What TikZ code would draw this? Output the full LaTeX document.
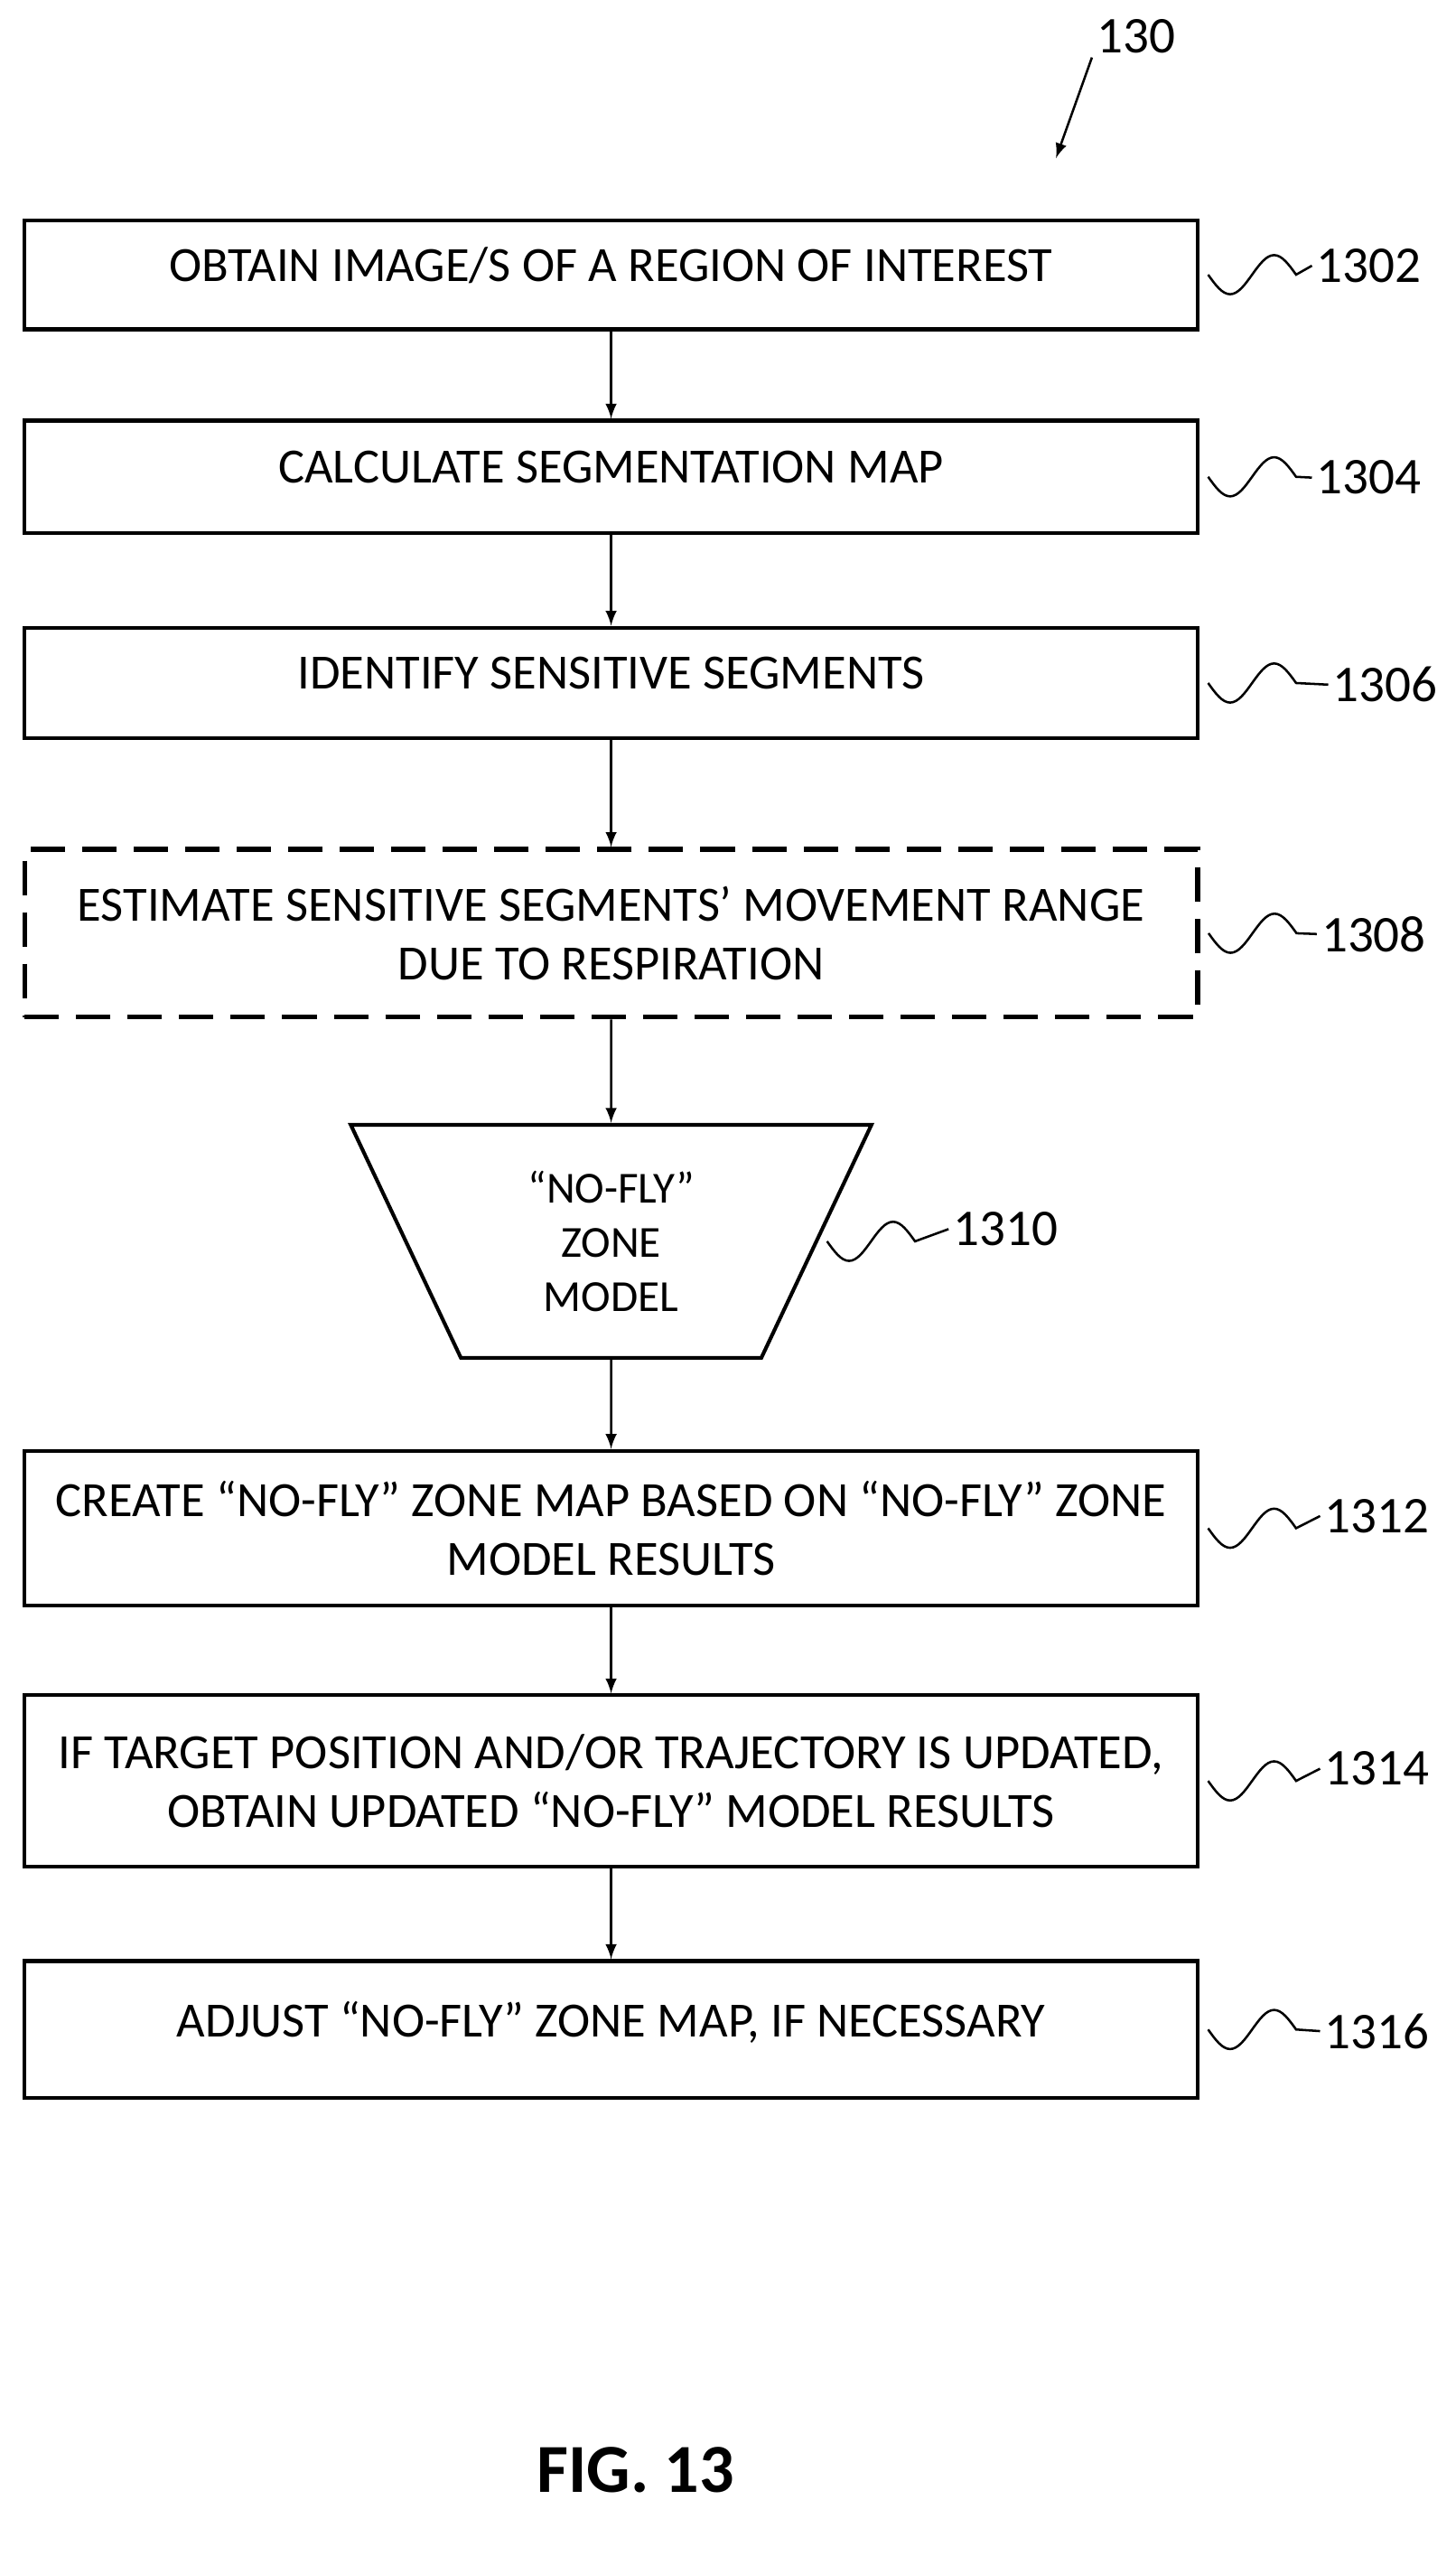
\documentclass[tikz,border=0pt]{standalone}
\usepackage{fontspec}
\setmainfont{Carlito}
\usetikzlibrary{positioning,shapes.geometric}
\begin{document}
\begin{tikzpicture}[x=0.02cm,y=-0.02cm,line width=1.3pt]
\tikzstyle{box}=[draw,minimum width=14.4cm,align=center,font=\fontsize{17.2}{20.5}\selectfont,inner sep=0pt]
\tikzstyle{lbl}=[font=\fontsize{18}{20}\selectfont,inner sep=1pt]
\newcommand{\squig}[2]{\draw[line width=0.8pt] ([xshift=3pt]#1) sin ++(0.27cm,-0.24cm) cos ++(0.27cm,0.24cm) sin ++(0.27cm,0.24cm) cos ++(0.27cm,-0.24cm) -- (#2.west);}
\newcommand{\up}[1]{\raisebox{7pt}{#1}}
\useasboundingbox (0,0) rectangle (893,1568);
\node[box,minimum height=1.34cm] (B_1302) at (375,168.5) {\up{OBTAIN IMAGE/S OF A REGION OF INTEREST}};
\node[box,minimum height=1.38cm] (B_1304) at (375,292.5) {\up{CALCULATE SEGMENTATION MAP}};
\node[box,minimum height=1.36cm] (B_1306) at (375,419) {\up{IDENTIFY SENSITIVE SEGMENTS}};
\node[box,dash pattern=on 12pt off 6pt,minimum height=2.06cm,line width=1.6pt] (B_1308) at (375,572.5) {ESTIMATE SENSITIVE SEGMENTS’ MOVEMENT RANGE\\DUE TO RESPIRATION};
\node[draw,trapezium,shape border rotate=180,trapezium stretches=true,minimum width=6.4cm,minimum height=2.86cm,trapezium left angle=67,trapezium right angle=67,align=center,font=\fontsize{15.5}{19}\selectfont] (B_1310) at (375,761.5) {“NO-FLY”\\ZONE\\MODEL};
\node[box,minimum height=1.9cm] (B_1312) at (375,937.5) {CREATE “NO-FLY” ZONE MAP BASED ON “NO-FLY” ZONE\\MODEL RESULTS};
\node[box,minimum height=2.1cm] (B_1314) at (375,1092.5) {IF TARGET POSITION AND/OR TRAJECTORY IS UPDATED,\\OBTAIN UPDATED “NO-FLY” MODEL RESULTS};
\node[box,minimum height=1.68cm] (B_1316) at (375,1245) {\up{ADJUST “NO-FLY” ZONE MAP, IF NECESSARY}};
\foreach \a/\b in {1302/1304,1304/1306,1306/1308,1308/1310,1310/1312,1312/1314,1314/1316}
  \draw[->,line width=0.8pt,>=latex] (B_\a) -- (B_\b);
\node[lbl] (L_1302) at (840,163) {1302};
\node[lbl] (L_1304) at (840,293) {1304};
\node[lbl] (L_1306) at (850,420) {1306};
\node[lbl] (L_1308) at (843,573) {1308};
\node[lbl] (L_1310) at (617,754) {1310};
\node[lbl] (L_1312) at (845,930) {1312};
\node[lbl] (L_1314) at (845,1085) {1314};
\node[lbl] (L_1316) at (845,1246) {1316};
\squig{B_1302.east}{L_1302}
\squig{B_1304.east}{L_1304}
\squig{B_1306.east}{L_1306}
\squig{B_1308.east}{L_1308}
\squig{B_1310.east}{L_1310}
\squig{B_1312.east}{L_1312}
\squig{B_1314.east}{L_1314}
\squig{B_1316.east}{L_1316}
\node[lbl] (L_130) at (697,22) {130};
\coordinate (T_130) at (648,97);
\draw[->,line width=0.8pt,>=latex] (L_130.south west) -- (T_130);
\node[font=\bfseries\fontsize{24}{26}\selectfont] (fig) at (390,1515) {FIG. 13};
\end{tikzpicture}
\end{document}
